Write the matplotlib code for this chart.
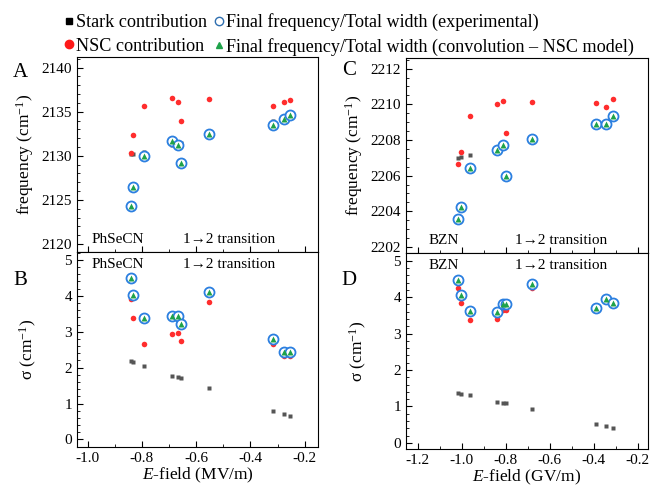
import matplotlib
matplotlib.use("Agg")
import matplotlib.pyplot as plt
from matplotlib.lines import Line2D
from matplotlib.ticker import MultipleLocator, AutoMinorLocator

plt.rcParams['font.family'] = ['Liberation Serif', 'DejaVu Serif']
plt.rcParams['mathtext.fontset'] = 'custom'
plt.rcParams['mathtext.rm'] = 'Liberation Serif'
plt.rcParams['mathtext.it'] = 'Liberation Serif:italic'
plt.rcParams['axes.unicode_minus'] = False

# PhSeCN (panels A, B), E-field in MV/m
phsecnField = [-0.841, -0.832, -0.793, -0.689, -0.667, -0.655, -0.552, -0.315, -0.277, -0.253]
phsecnFreqFinal = [2124.33, 2126.48, 2129.98, 2131.68, 2131.23, 2129.19, 2132.51, 2133.45, 2134.12, 2134.61]
phsecnFreqStark = [2130.17, 2130.2, 2130.47, 2131.25, 2131.4, 2131.4, 2132.24, 2133.94, 2134.24, 2134.69]
phsecnFreqNSC = [2130.36, 2132.39, 2135.67, 2136.57, 2136.05, 2133.90, 2136.46, 2135.67, 2136.05, 2136.38]
phsecnWidthFinal = [4.50, 4.03, 3.37, 3.45, 3.45, 3.22, 4.10, 2.80, 2.44, 2.44]
phsecnWidthNSC = [3.91, 3.39, 2.67, 2.94, 2.96, 2.74, 3.84, 2.67, 2.33, 2.33]
phsecnWidthStark = [2.18, 2.16, 2.05, 1.78, 1.73, 1.70, 1.44, 0.80, 0.70, 0.64]

# BZN (panels C, D), E-field in GV/m
bznField = [-1.015, -1.005, -0.96, -0.84, -0.812, -0.797, -0.68, -0.39, -0.343, -0.313]
bznFreqFinal = [2203.54, 2204.26, 2206.40, 2207.45, 2207.69, 2205.97, 2208.03, 2208.89, 2208.89, 2209.36]
bznFreqStark = [2206.99, 2207.03, 2207.16, 2207.5, 2207.6, 2207.65, 2208.0, 2208.93, 2209.08, 2209.17]
bznFreqNSC = [2206.63, 2207.31, 2209.34, 2210.03, 2210.16, 2208.41, 2210.12, 2210.06, 2209.87, 2210.29]
bznWidthFinal = [4.48, 4.07, 3.61, 3.60, 3.82, 3.80, 4.36, 3.71, 3.94, 3.84]
bznWidthNSC = [4.25, 3.85, 3.37, 3.41, 3.65, 3.64, 4.25, 3.69, 3.92, 3.82]
bznWidthStark = [1.36, 1.34, 1.30, 1.13, 1.10, 1.08, 0.92, 0.53, 0.47, 0.42]

legendLabels = ["Stark contribution", "NSC contribution",
                "Final frequency/Total width (experimental)",
                "Final frequency/Total width (convolution \u2013 NSC model)"]

starkColor = "#555555"
nscColor = "#ff2d2d"
circleColor = "#2b7fe0"
triColor = "#1fa24a"

fig = plt.figure(figsize=(6.54, 4.88), dpi=100)

axA = fig.add_axes([0.1177, 0.4836, 0.3685, 0.3996])
axB = fig.add_axes([0.1177, 0.0840, 0.3685, 0.3996])
axC = fig.add_axes([0.6208, 0.4816, 0.3700, 0.3996])
axD = fig.add_axes([0.6208, 0.0799, 0.3700, 0.4016])


def drawPanel(ax, field, stark, nsc, final):
    ax.plot(field, stark, 's', color=starkColor, ms=3.2, mec='none')
    ax.plot(field, nsc, 'o', color=nscColor, ms=4.0, mec='none')
    ax.plot(field, final, 'o', mfc='white', mec=circleColor, mew=1.3, ms=7.2)
    ax.plot(field, final, '^', color=triColor, ms=4.4, mec='none')
    ax.tick_params(direction='in', which='both', labelsize=11, top=False, right=False)
    ax.tick_params(which='major', length=4)
    ax.tick_params(which='minor', length=2)
    ax.xaxis.set_minor_locator(AutoMinorLocator(2))


drawPanel(axA, phsecnField, phsecnFreqStark, phsecnFreqNSC, phsecnFreqFinal)
drawPanel(axB, phsecnField, phsecnWidthStark, phsecnWidthNSC, phsecnWidthFinal)
drawPanel(axC, bznField, bznFreqStark, bznFreqNSC, bznFreqFinal)
drawPanel(axD, bznField, bznWidthStark, bznWidthNSC, bznWidthFinal)

# axis ranges and ticks
for ax in (axA, axB):
    ax.set_xlim(-1.039, -0.151)
    ax.xaxis.set_major_locator(MultipleLocator(0.2))
for ax in (axC, axD):
    ax.set_xlim(-1.253, -0.153)
    ax.xaxis.set_major_locator(MultipleLocator(0.2))

axA.set_ylim(2119.1, 2141.2)
axA.yaxis.set_major_locator(MultipleLocator(5))
axA.yaxis.set_minor_locator(AutoMinorLocator(5))
axC.set_ylim(2201.66, 2212.6)
axC.yaxis.set_major_locator(MultipleLocator(2))
axC.yaxis.set_minor_locator(AutoMinorLocator(4))
axB.set_ylim(-0.21, 5.22)
axD.set_ylim(-0.17, 5.21)
for ax in (axB, axD):
    ax.yaxis.set_major_locator(MultipleLocator(1))
    ax.yaxis.set_minor_locator(AutoMinorLocator(5))

axA.tick_params(labelbottom=False)
axC.tick_params(labelbottom=False)
axB.set_xticks([-1.0, -0.8, -0.6, -0.4, -0.2], ['-1.0', '-0.8', '-0.6', '-0.4', '-0.2'])
axD.set_xticks([-1.2, -1.0, -0.8, -0.6, -0.4, -0.2], ['-1.2', '-1.0', '-0.8', '-0.6', '-0.4', '-0.2'])

axA.set_ylabel("frequency (cm$^{-1}$)", fontsize=12.5, labelpad=4)
axC.set_ylabel("frequency (cm$^{-1}$)", fontsize=12.5, labelpad=4)
axB.set_ylabel("\u03c3 (cm$^{-1}$)", fontsize=12.5, labelpad=18)
axD.set_ylabel("\u03c3 (cm$^{-1}$)", fontsize=12.5, labelpad=18)
axB.set_xlabel("$E$-field (MV/m)", fontsize=12.5, labelpad=1)
axD.set_xlabel("$E$-field (GV/m)", fontsize=12.5, labelpad=1)

# labels inside panels
axA.text(0.06, 0.03, "PhSeCN", transform=axA.transAxes, fontsize=11, va='bottom')
axA.text(0.44, 0.03, "1\u21922 transition", transform=axA.transAxes, fontsize=11, va='bottom')
axB.text(0.06, 0.97, "PhSeCN", transform=axB.transAxes, fontsize=11, va='top')
axB.text(0.44, 0.97, "1\u21922 transition", transform=axB.transAxes, fontsize=11, va='top')
axC.text(0.095, 0.03, "BZN", transform=axC.transAxes, fontsize=11, va='bottom')
axC.text(0.45, 0.03, "1\u21922 transition", transform=axC.transAxes, fontsize=11, va='bottom')
axD.text(0.095, 0.97, "BZN", transform=axD.transAxes, fontsize=11, va='top')
axD.text(0.45, 0.97, "1\u21922 transition", transform=axD.transAxes, fontsize=11, va='top')

# panel letters
fig.text(0.031, 0.852, "A", fontsize=15, ha='center', va='center')
fig.text(0.031, 0.425, "B", fontsize=15, ha='center', va='center')
fig.text(0.533, 0.855, "C", fontsize=15, ha='center', va='center')
fig.text(0.533, 0.425, "D", fontsize=15, ha='center', va='center')

legendHandles = [
    Line2D([], [], ls='none', marker='s', color='black', ms=5),
    Line2D([], [], ls='none', marker='o', color='#ff1a1a', ms=6),
    Line2D([], [], ls='none', marker='o', mfc='white', mec='#2f6fb0', mew=1.0, ms=6),
    Line2D([], [], ls='none', marker='^', color=triColor, ms=5),
]
fig.legend(legendHandles, legendLabels, ncol=2, loc='upper left', bbox_to_anchor=(0.082, 0.995),
           frameon=False, fontsize=13.1, handlelength=0.5, handletextpad=0.15,
           columnspacing=0.4, labelspacing=0.35, borderaxespad=0.2)

plt.savefig("out.png", dpi=100)
